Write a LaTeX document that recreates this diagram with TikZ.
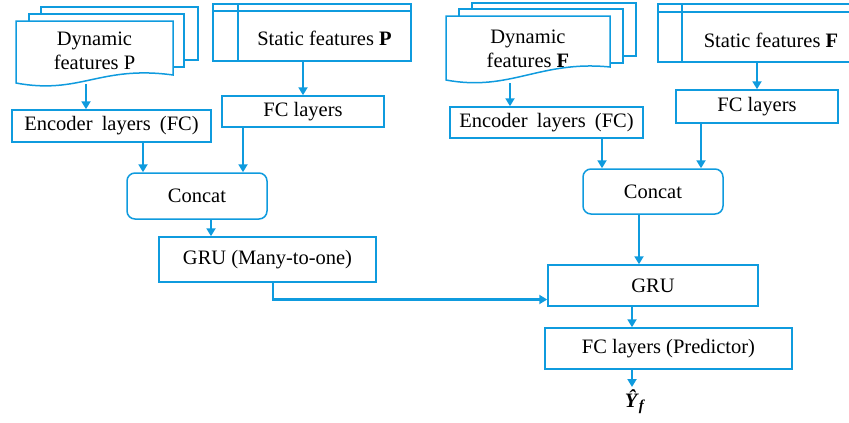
\documentclass[tikz,border=0pt]{standalone}
\usepackage{fontspec}
\setmainfont{Liberation Serif}
\usetikzlibrary{arrows.meta}
\definecolor{boxblue}{RGB}{15,155,222}
\tikzset{
	line/.style={draw=boxblue, line width=1.5pt},
	box/.style 2 args={line, fill=white, minimum width=#1, minimum height=#2, inner sep=0pt},
	rbox/.style 2 args={box={#1}{#2}, rounded corners=8pt},
	arr/.style={draw=boxblue, line width=2.3pt, -{Triangle[length=8pt,width=9pt]}},
}
\begin{document}
\begin{tikzpicture}[x=1pt, y=-1pt, font=\fontsize{20.5}{24}\selectfont]
		\useasboundingbox (0,0) rectangle (849,423);
		\clip (0,0) rectangle (849,423);
		% dynamic features P (stack of documents)
		\draw[line] (41,14) -- (41,7) -- (198,7) -- (198,60) -- (184,60);
		\draw[line] (29,21) -- (29,14) -- (184,14) -- (184,67) -- (173,67);
		\draw[line, fill=white] (16,21) -- (173,21) -- (173,75) .. controls (100,65) and (80,95) .. (16,83) -- cycle;
		\node[align=center] (dynP) at (94.5,51) {Dynamic\\features P};
		\coordinate (dynPout) at (86,84);
		% dynamic features F
		\draw[line] (472,9) -- (472,3) -- (636,3) -- (636,56) -- (623,56);
		\draw[line] (459,16) -- (459,9) -- (623,9) -- (623,63) -- (610,63);
		\draw[line, fill=white] (446,16) -- (610,16) -- (610,67) .. controls (540,60) and (510,92) .. (446,80) -- cycle;
		\node[align=center] (dynF) at (528,49) {Dynamic\\features \textbf{F}};
		\coordinate (dynFout) at (510,83);
		% static features P and F
		\draw[line] (213,4) rectangle (411,61) (213,11) -- (411,11) (238,4) -- (238,61);
		\node (statP) at (324.5,38) {Static features \textbf{P}};
		\coordinate (statPout) at (303,61);
		\draw[line] (658,4) rectangle (862,62) (658,12) -- (862,12) (682,4) -- (682,62);
		\node (statF) at (771,40) {Static features \textbf{F}};
		\coordinate (statFout) at (757,62);
		% boxes
		\node[box={199pt}{32pt}] (encP) at (111.5,126) {Encoder\hspace{0.2em} layers\hspace{0.2em} (FC)};
		\node[box={162pt}{31pt}] (fcP) at (303,111.5) {FC layers};
		\node[rbox={140pt}{46pt}] (catP) at (197,196) {Concat};
		\node[box={217pt}{45pt}] (gruP) at (267.5,259.5) {GRU (Many-to-one)};
		\node[box={193pt}{31pt}] (encF) at (546.5,122.5) {Encoder\hspace{0.2em} layers\hspace{0.2em} (FC)};
		\node[box={162pt}{33pt}] (fcF) at (757,106.5) {FC layers};
		\node[rbox={140pt}{45pt}] (catF) at (653,191.5) {Concat};
		\node[box={210pt}{41pt}] (gruF) at (653,285.5) {GRU};
		\node[box={247pt}{41pt}] (pred) at (668.5,348.5) {FC layers (Predictor)};
		\node (out) at (635,402) {\textbf{\textit{Ŷ}}\raisebox{-0.35ex}{\fontsize{15}{18}\selectfont\textbf{\textit{f}}}};
		% connectors
		\draw[arr] (dynPout) -- (dynPout |- encP.north);
		\draw[arr] (statPout) -- (fcP.north);
		\draw[arr] (encP.south -| 143,0) -- (catP.north -| 143,0);
		\draw[arr] (fcP.south -| 243,0) -- (catP.north -| 243,0);
		\draw[arr] (catP.south -| 211,0) -- (gruP.north -| 211,0);
		\draw[arr] (gruP.south -| 273,0) |- ([yshift=-14pt]gruF.west);
		\draw[arr] (dynFout) -- (dynFout |- encF.north);
		\draw[arr] (statFout) -- (fcF.north);
		\draw[arr] (encF.south -| 602,0) -- (catF.north -| 602,0);
		\draw[arr] (fcF.south -| 701,0) -- (catF.north -| 701,0);
		\draw[arr] (catF.south -| 639,0) -- (gruF.north -| 639,0);
		\draw[arr] (gruF.south -| 632,0) -- (pred.north -| 632,0);
		\draw[arr] (pred.south -| 632,0) -- (632,387);
		\end{tikzpicture}
\end{document}
